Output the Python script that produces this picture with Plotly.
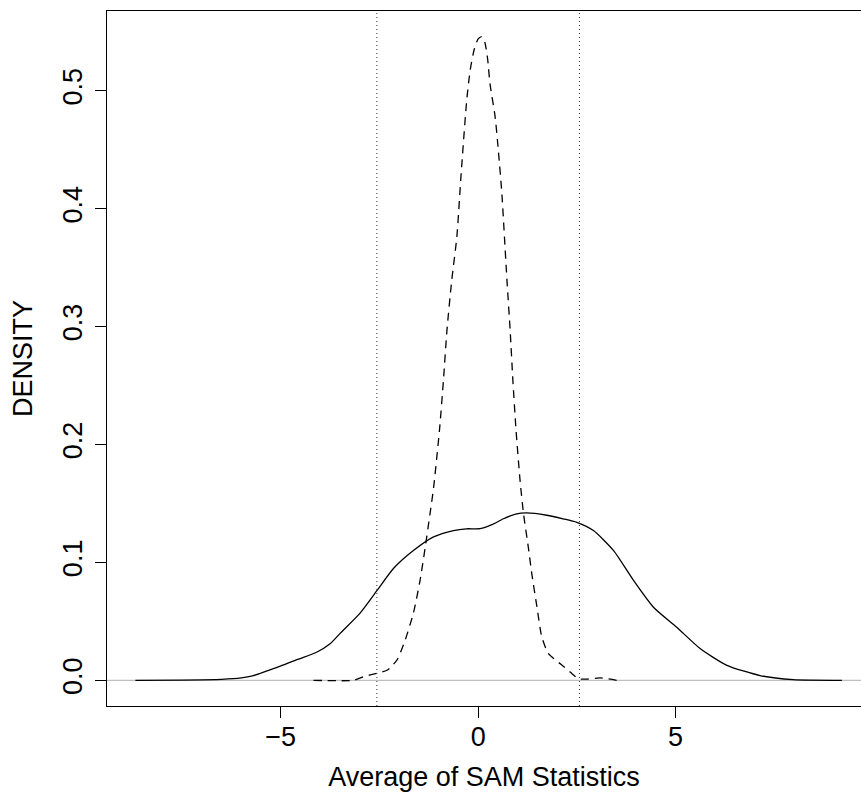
import plotly.graph_objects as go

# Solid density curve (observed)
obs_x = [-8.68, -7.5, -6.5, -6.0, -5.69, -5.35, -5.01, -4.55, -4.08, -3.75, -3.49, -2.99,
         -2.565, -2.14, -1.64, -1.13, -0.625, -0.3, 0.05, 0.35, 0.64, 0.95, 1.23, 1.74,
         2.15, 2.50, 2.92, 3.43, 3.93, 4.44, 5.03, 5.62, 6.30, 7.14, 7.98, 9.21]
obs_y = [0.000, 0.0002, 0.0008, 0.002, 0.004, 0.008, 0.012, 0.018, 0.024, 0.031, 0.040, 0.057,
         0.076, 0.095, 0.110, 0.1216, 0.127, 0.1285, 0.1286, 0.132, 0.137, 0.141, 0.142, 0.140,
         0.137, 0.134, 0.127, 0.110, 0.085, 0.062, 0.045, 0.027, 0.0127, 0.004, 0.0006, 0.000]

# Dashed density curve (null)
null_x = [-4.17, -3.16, -2.90, -2.565, -2.31, -2.06, -1.85, -1.64, -1.47, -1.34, -1.22, -1.13,
          -0.98, -0.88, -0.79, -0.67, -0.54, -0.43, -0.29, -0.2, -0.1, 0.0, 0.09, 0.17, 0.24,
          0.30, 0.43, 0.51, 0.60, 0.73, 0.81, 0.88, 0.96, 1.06, 1.15, 1.27, 1.36, 1.49, 1.61,
          1.78, 2.08, 2.33, 2.54, 2.75, 3.09, 3.51]
null_y = [0.0, 0.0, 0.003, 0.006, 0.0085, 0.017, 0.034, 0.057, 0.085, 0.113, 0.141, 0.163,
          0.212, 0.254, 0.297, 0.339, 0.376, 0.43, 0.492, 0.518, 0.535, 0.544, 0.546, 0.541, 0.527,
          0.506, 0.478, 0.450, 0.413, 0.339, 0.297, 0.254, 0.212, 0.170, 0.141, 0.113, 0.090, 0.062, 0.037,
          0.0226, 0.014, 0.007, 0.0014, 0.001, 0.002, 0.0]

cutoffs = [-2.565, 2.565]

x_ticks = [-5, 0, 5]
x_ticktext = ["\u22125", "0", "5"]
y_ticks = [0.0, 0.1, 0.2, 0.3, 0.4, 0.5]
y_ticktext = ["0.0", "0.1", "0.2", "0.3", "0.4", "0.5"]

FONT = "Liberation Sans, Arial, sans-serif"

fig = go.Figure()
fig.add_trace(go.Scatter(x=obs_x, y=obs_y, mode="lines",
                         line=dict(color="black", width=1.3, shape="spline", smoothing=0.6),
                         showlegend=False, hoverinfo="skip"))
fig.add_trace(go.Scatter(x=null_x, y=null_y, mode="lines",
                         line=dict(color="black", width=1.3, dash="8px,6px", shape="spline", smoothing=0.6),
                         showlegend=False, hoverinfo="skip"))

# zero line
fig.add_shape(type="line", xref="paper", yref="y", x0=0, x1=1, y0=0, y1=0,
              line=dict(color="#bebebe", width=1.2), layer="below")
for c in cutoffs:
    fig.add_shape(type="line", xref="x", yref="paper", x0=c, x1=c, y0=0, y1=1,
                  line=dict(color="#333333", width=1, dash="1px,3px"))

fig.update_layout(
    width=861, height=802,
    margin=dict(l=107, r=0, t=11, b=96, autoexpand=False),
    paper_bgcolor="white", plot_bgcolor="white",
    font=dict(family=FONT, size=27, color="black"),
    xaxis=dict(range=[-9.40, 9.696], tickvals=x_ticks, ticktext=x_ticktext,
               showline=True, linecolor="black", linewidth=1.3, mirror=True,
               ticks="outside", ticklen=11, tickcolor="black", tickwidth=1.3,
               showgrid=False, zeroline=False, automargin=False,
               tickfont=dict(size=27), ticklabelstandoff=-5,
               title=dict(text="Average of SAM Statistics", font=dict(size=27), standoff=16)),
    yaxis=dict(range=[-0.0218, 0.5677], tickvals=y_ticks, ticktext=y_ticktext,
               showline=True, linecolor="black", linewidth=1.3, mirror=False,
               ticks="outside", ticklen=11, tickcolor="black", tickwidth=1.3,
               showgrid=False, zeroline=False, tickangle=-90, automargin=False,
               tickfont=dict(size=27), ticklabelstandoff=2,
               title=dict(text="DENSITY", font=dict(size=27), standoff=17)),
)

fig.write_html("out.html", config={"displayModeBar": False},
               post_script="document.body.style.margin='0';document.body.style.overflow='hidden';")
